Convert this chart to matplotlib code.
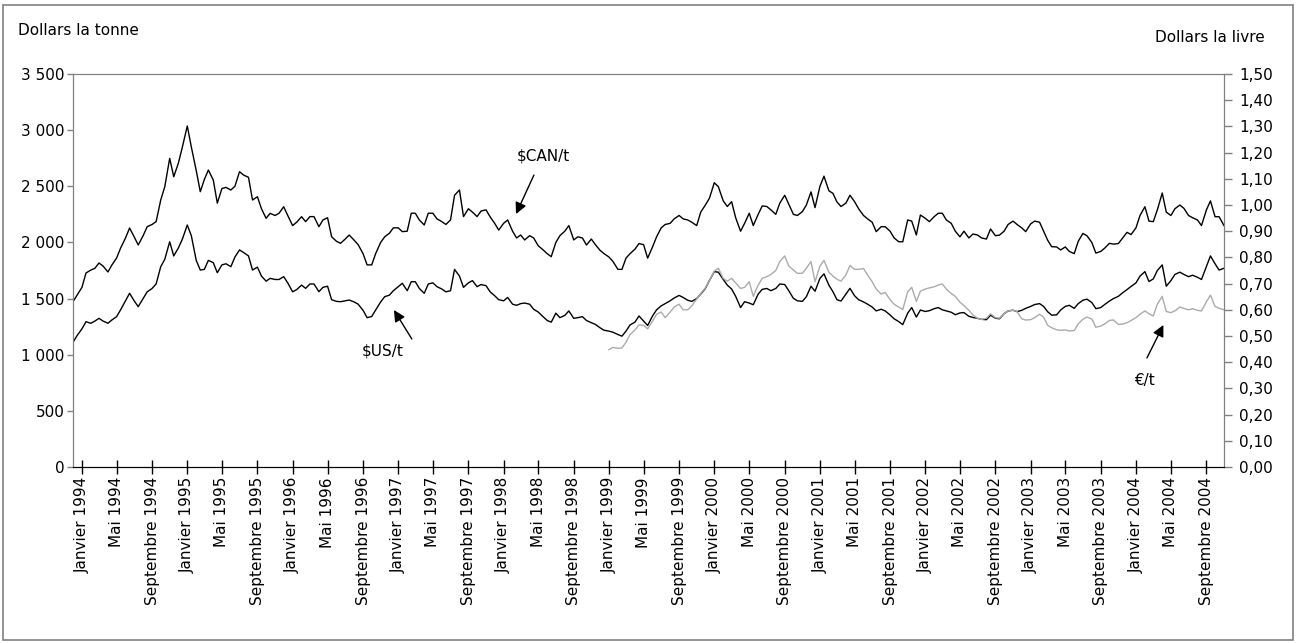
import numpy as np
import pandas as pd
import matplotlib
matplotlib.use("Agg")
from matplotlib import pyplot as plt
from matplotlib.patches import Rectangle
from matplotlib.ticker import FuncFormatter, MultipleLocator

#semi-monthly readings, Dec 1993 to Nov 2004
start_date = "1993-12-01"
euro_offset = 122  #first reading of the euro series (January 1999)

can_t = [1472, 1530, 1600, 1728, 1754, 1770, 1817, 1790, 1737, 1800,
         1861, 1950, 2040, 2128, 2050, 1977, 2060, 2140, 2160, 2185,
         2378, 2496, 2749, 2585, 2705, 2850, 3037, 2850, 2640, 2452,
         2560, 2645, 2556, 2350, 2480, 2490, 2467, 2500, 2630, 2600,
         2580, 2378, 2407, 2300, 2215, 2259, 2240, 2260, 2318, 2240,
         2150, 2180, 2229, 2185, 2230, 2230, 2140, 2200, 2220, 2051,
         2010, 1992, 2030, 2066, 2020, 1980, 1900, 1800, 1800, 1903,
         2000, 2050, 2081, 2130, 2130, 2096, 2100, 2260, 2260, 2200,
         2155, 2260, 2260, 2210, 2185, 2160, 2200, 2420, 2467, 2230,
         2300, 2270, 2230, 2280, 2290, 2229, 2170, 2110, 2170, 2200,
         2100, 2040, 2066, 2022, 2060, 2040, 1970, 1940, 1900, 1873,
         2000, 2060, 2100, 2150, 2022, 2050, 2040, 1977, 2030, 1980,
         1930, 1900, 1870, 1830, 1760, 1760, 1860, 1900, 1940, 1990,
         1980, 1860, 1960, 2050, 2130, 2160, 2170, 2210, 2240, 2210,
         2200, 2180, 2150, 2270, 2333, 2393, 2532, 2496, 2370, 2320,
         2363, 2220, 2100, 2170, 2260, 2150, 2250, 2325, 2320, 2290,
         2250, 2350, 2420, 2340, 2250, 2240, 2274, 2333, 2450, 2310,
         2500, 2590, 2460, 2437, 2360, 2320, 2350, 2420, 2363, 2300,
         2240, 2210, 2180, 2096, 2140, 2140, 2100, 2040, 2006, 2006,
         2200, 2190, 2066, 2244, 2215, 2185, 2230, 2260, 2260, 2200,
         2170, 2100, 2050, 2100, 2040, 2075, 2066, 2040, 2030, 2120,
         2060, 2065, 2100, 2160, 2190, 2160, 2130, 2096, 2165, 2190,
         2180, 2100, 2020, 1962, 1960, 1933, 1960, 1920, 1900, 2010,
         2080, 2060, 2000, 1905, 1920, 1950, 1992, 1985, 1990, 2036,
         2090, 2070, 2130, 2240, 2318, 2190, 2185, 2290, 2440, 2270,
         2240, 2300, 2333, 2304, 2240, 2220, 2200, 2150, 2289, 2370,
         2229, 2229, 2150]

us_t = [1110, 1170, 1230, 1294, 1280, 1300, 1324, 1300, 1280, 1310,
        1339, 1400, 1480, 1547, 1480, 1428, 1500, 1560, 1590, 1630,
        1784, 1850, 2006, 1880, 1950, 2030, 2155, 2060, 1840, 1754,
        1760, 1840, 1820, 1730, 1800, 1810, 1784, 1870, 1933, 1910,
        1880, 1754, 1780, 1700, 1655, 1680, 1670, 1670, 1695, 1640,
        1560, 1580, 1620, 1591, 1630, 1630, 1561, 1600, 1610, 1490,
        1475, 1472, 1480, 1487, 1470, 1450, 1395, 1330, 1340, 1400,
        1470, 1517, 1530, 1570, 1606, 1636, 1570, 1650, 1650, 1590,
        1547, 1630, 1640, 1606, 1585, 1560, 1570, 1760, 1700, 1600,
        1640, 1660, 1606, 1625, 1615, 1561, 1525, 1490, 1480, 1510,
        1450, 1440, 1455, 1460, 1450, 1405, 1380, 1345, 1305, 1290,
        1370, 1330, 1350, 1390, 1324, 1330, 1339, 1305, 1285, 1270,
        1240, 1218, 1210, 1200, 1180, 1165, 1210, 1265, 1290, 1345,
        1300, 1260, 1345, 1400, 1435, 1455, 1480, 1505, 1528, 1510,
        1485, 1475, 1500, 1540, 1590, 1660, 1740, 1735, 1670, 1620,
        1585, 1520, 1420, 1472, 1460, 1445, 1540, 1582, 1590, 1570,
        1590, 1630, 1625, 1570, 1502, 1480, 1475, 1517, 1610, 1565,
        1680, 1720, 1620, 1561, 1490, 1478, 1540, 1591, 1525, 1490,
        1470, 1450, 1425, 1390, 1405, 1390, 1354, 1320, 1295, 1268,
        1370, 1420, 1335, 1398, 1385, 1392, 1410, 1420, 1400, 1390,
        1378, 1356, 1372, 1375, 1342, 1332, 1324, 1315, 1312, 1352,
        1325, 1320, 1365, 1390, 1396, 1384, 1395, 1413, 1430, 1447,
        1455, 1430, 1383, 1352, 1355, 1398, 1430, 1440, 1413, 1455,
        1485, 1495, 1465, 1410, 1420, 1448, 1478, 1500, 1520, 1550,
        1580, 1608, 1640, 1700, 1740, 1652, 1675, 1750, 1800, 1610,
        1660, 1715, 1735, 1715, 1695, 1708, 1690, 1670, 1784, 1880,
        1810, 1754, 1770]

eur_t = [1045, 1065, 1057, 1060, 1110, 1180, 1220, 1265, 1262, 1230,
         1300, 1360, 1380, 1330, 1380, 1425, 1450, 1400, 1400, 1435,
         1495, 1545, 1595, 1660, 1745, 1770, 1680, 1655, 1680, 1640,
         1590, 1600, 1650, 1520, 1620, 1680, 1695, 1715, 1750, 1830,
         1880, 1790, 1754, 1725, 1725, 1770, 1830, 1650, 1790, 1840,
         1735, 1700, 1672, 1655, 1710, 1795, 1760, 1760, 1768, 1710,
         1650, 1585, 1540, 1555, 1490, 1450, 1425, 1402, 1560, 1600,
         1475, 1565, 1585, 1595, 1605, 1620, 1630, 1585, 1545, 1520,
         1468, 1438, 1395, 1355, 1324, 1315, 1325, 1365, 1330, 1325,
         1365, 1390, 1396, 1384, 1320, 1309, 1312, 1330, 1360, 1335,
         1262, 1240, 1222, 1218, 1220, 1212, 1215, 1275, 1315, 1335,
         1318, 1245, 1255, 1275, 1305, 1310, 1270, 1272, 1285, 1305,
         1330, 1360, 1390, 1365, 1345, 1450, 1520, 1385, 1375, 1390,
         1425, 1412, 1400, 1410, 1395, 1390, 1472, 1530, 1430, 1413,
         1400]

month_names = {1: "Janvier", 5: "Mai", 9: "Septembre"}

dates = pd.date_range(start_date, periods=len(can_t), freq="SMS")
eur_dates = dates[euro_offset:]

plt.rcParams['font.family'] = ['DejaVu Sans']
plt.rcParams['font.size'] = 11

fig = plt.figure(figsize=(12.96, 6.43), dpi=100)
ax = fig.add_axes([73/1296, 1-467/643, (1224-73)/1296, (467-74)/643])

ax.plot(dates, can_t, color='black', lw=1.0)
ax.plot(dates, us_t, color='black', lw=1.0)
ax.plot(eur_dates, eur_t, color='#ababab', lw=1.0)

ax.set_xlim(dates[0], dates[-1])
ax.set_ylim(0, 3500)
ax.yaxis.set_major_locator(MultipleLocator(500))
ax.yaxis.set_major_formatter(FuncFormatter(lambda v, p: f"{int(v):,}".replace(',', ' ')))

#ticks every four months
tick_dates = pd.date_range("1994-01-01", "2004-09-01", freq="4MS")
ax.set_xticks(tick_dates)
ax.set_xticklabels([f"{month_names[d.month]} {d.year}" for d in tick_dates], rotation=90)
ax.tick_params(axis='x', direction='inout', length=9.5, width=1, pad=2.5, colors='black')
ax.tick_params(axis='y', direction='out', length=4.5, width=1, pad=1.5, color='#808080')

ax2 = ax.twinx()
ax2.set_ylim(0, 1.5)
ax2.yaxis.set_major_locator(MultipleLocator(0.1))
ax2.yaxis.set_major_formatter(FuncFormatter(lambda v, p: f"{v:.2f}".replace('.', ',')))
ax2.tick_params(axis='y', direction='out', length=5.8, width=1, pad=5, color='#808080')

for a in (ax, ax2):
    for side in ('left', 'right', 'top'):
        a.spines[side].set_color('#808080')
    a.spines['bottom'].set_color('black')

#series labels, arrows drawn apart from the text
arrow = dict(arrowstyle='-|>', color='black', lw=1.0, mutation_scale=17, shrinkA=0, shrinkB=0)
ax.text(pd.Timestamp("1998-05-20"), 2770, "$CAN/t", ha='center', va='center')
ax.annotate("", xy=(pd.Timestamp("1998-02-13"), 2253), xytext=(pd.Timestamp("1998-04-16"), 2600),
            arrowprops=arrow)
ax.text(pd.Timestamp("1996-11-08"), 1033, "$US/t", ha='center', va='center')
ax.annotate("", xy=(pd.Timestamp("1996-12-17"), 1398), xytext=(pd.Timestamp("1997-02-17"), 1140),
            arrowprops=arrow)
ax.text(pd.Timestamp("2004-01-29"), 766, "€/t", ha='center', va='center')
ax.annotate("", xy=(pd.Timestamp("2004-04-05"), 1265), xytext=(pd.Timestamp("2004-02-08"), 971),
            arrowprops=arrow)

fig.text(18/1296, 1-35/643, "Dollars la tonne", ha='left', va='baseline')
fig.text(1265/1296, 1-42/643, "Dollars la livre", ha='right', va='baseline')

fig.patches.append(Rectangle((3/1296, 3/643), 1290/1296, 635/643, transform=fig.transFigure,
                             fill=False, edgecolor='#808080', lw=1.2))

fig.savefig("out.png", dpi=100)
